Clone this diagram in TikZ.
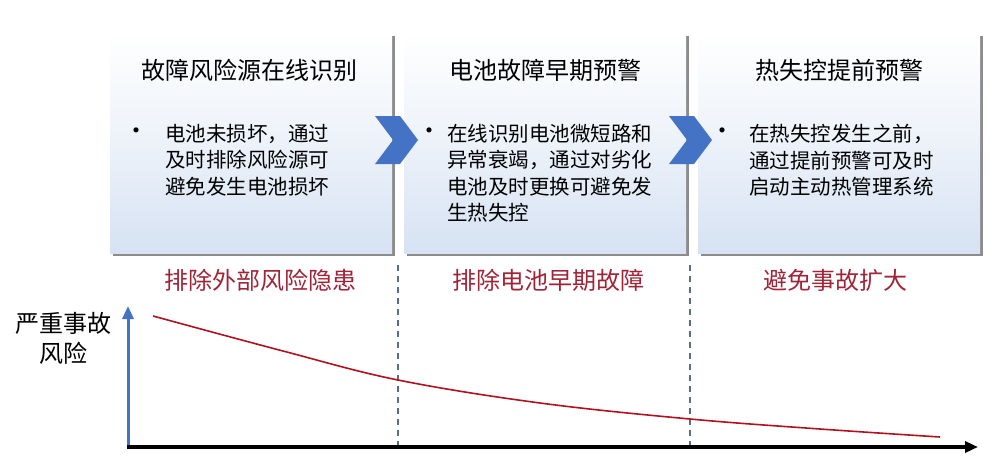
\documentclass[tikz,border=0pt]{standalone}
\usepackage{fontspec}
\setmainfont{Noto Sans CJK SC}
\usetikzlibrary{arrows.meta,positioning,shadows}
\definecolor{chevblue}{RGB}{68,114,196}
\definecolor{cardblue}{RGB}{214,226,243}
\definecolor{lblred}{RGB}{160,36,56}
\definecolor{riskred}{RGB}{176,18,32}
\definecolor{divgray}{RGB}{90,108,135}

\begin{document}
\begin{tikzpicture}[x=1pt, y=-1pt,
    card/.style={minimum width=282pt, minimum height=220pt, inner sep=0pt,
        top color=white, bottom color=cardblue, middle color=white!55!cardblue,
        general shadow={fill=black!45, shadow xshift=3pt, shadow yshift=-3pt}},
    ttl/.style={font=\fontsize{24}{28}\selectfont, inner sep=0pt},
    body/.style={font=\fontsize{20.5}{26.5}\selectfont, align=left, inner sep=0pt, anchor=north west},
    dot/.style={font=\fontsize{24}{26}\selectfont, inner sep=0pt},
    gain/.style={font=\fontsize{24}{28}\selectfont, text=lblred, inner sep=0pt},
    chev/.style={fill=chevblue},
    divd/.style={divgray, dashed, line width=1.3pt, dash pattern=on 6pt off 5pt},
    arr/.style={-{Triangle[length=13pt, width=11pt]}}
]
\useasboundingbox (0,0) rectangle (990,463);

% three stages
\node[card] (src) at (251,143) {};
\node[card] (early) at (545,143) {};
\node[card] (thermal) at (839,143) {};

\node[ttl] (srcT) at (249,70) {故障风险源在线识别};
\node[ttl] (earlyT) at (545,70) {电池故障早期预警};
\node[ttl] (thermalT) at (839,70) {热失控提前预警};

\node[dot] (srcD) at (136,134) {•};
\node[body] (srcB) at (165,124) {电池未损坏，通过\\及时排除风险源可\\避免发生电池损坏};
\node[dot] (earlyD) at (429,134) {•};
\node[body] (earlyB) at (447,124) {在线识别电池微短路和\\异常衰竭，通过对劣化\\电池及时更换可避免发\\生热失控};
\node[dot] (thermalD) at (722,134) {•};
\node[body] (thermalB) at (749,124) {在热失控发生之前，\\通过提前预警可及时\\启动主动热管理系统};

% chevrons between stages
\fill[chev] (375,116) -- (400,116) -- (418,140) -- (400,164) -- (375,164) -- (393,140) -- cycle;
\fill[chev] (669,116) -- (694,116) -- (712,140) -- (694,164) -- (669,164) -- (687,140) -- cycle;

% benefits
\node[gain] (srcG) at (260,280) {排除外部风险隐患};
\node[gain] (earlyG) at (548,280) {排除电池早期故障};
\node[gain] (thermalG) at (835,280) {避免事故扩大};

% dividers
\coordinate (d1top) at (398,265);
\coordinate (d1bot) at (398,446);
\coordinate (d2top) at (690,265);
\coordinate (d2bot) at (690,446);
\draw[divd] (d1top) -- (d1bot);
\draw[divd] (d2top) -- (d2bot);

% axes
\coordinate (org) at (128,447);
\coordinate (ytop) at (128,306);
\coordinate (xend) at (978,447);
\draw[arr, chevblue, line width=3pt] (org) -- (ytop);
\draw[arr, black, line width=4pt] ([xshift=-1.5pt]org) -- (xend);
\node[font=\fontsize{24}{30}\selectfont, align=center, inner sep=0pt] (ylab) at (64,338) {严重事故\\风险};

% risk curve
\draw[riskred, line width=1.6pt] plot[smooth, tension=0.6] coordinates {(153,316) (283,351) (398,380) (540,403) (690,419) (820,429) (940,437)};
\end{tikzpicture}
\end{document}
